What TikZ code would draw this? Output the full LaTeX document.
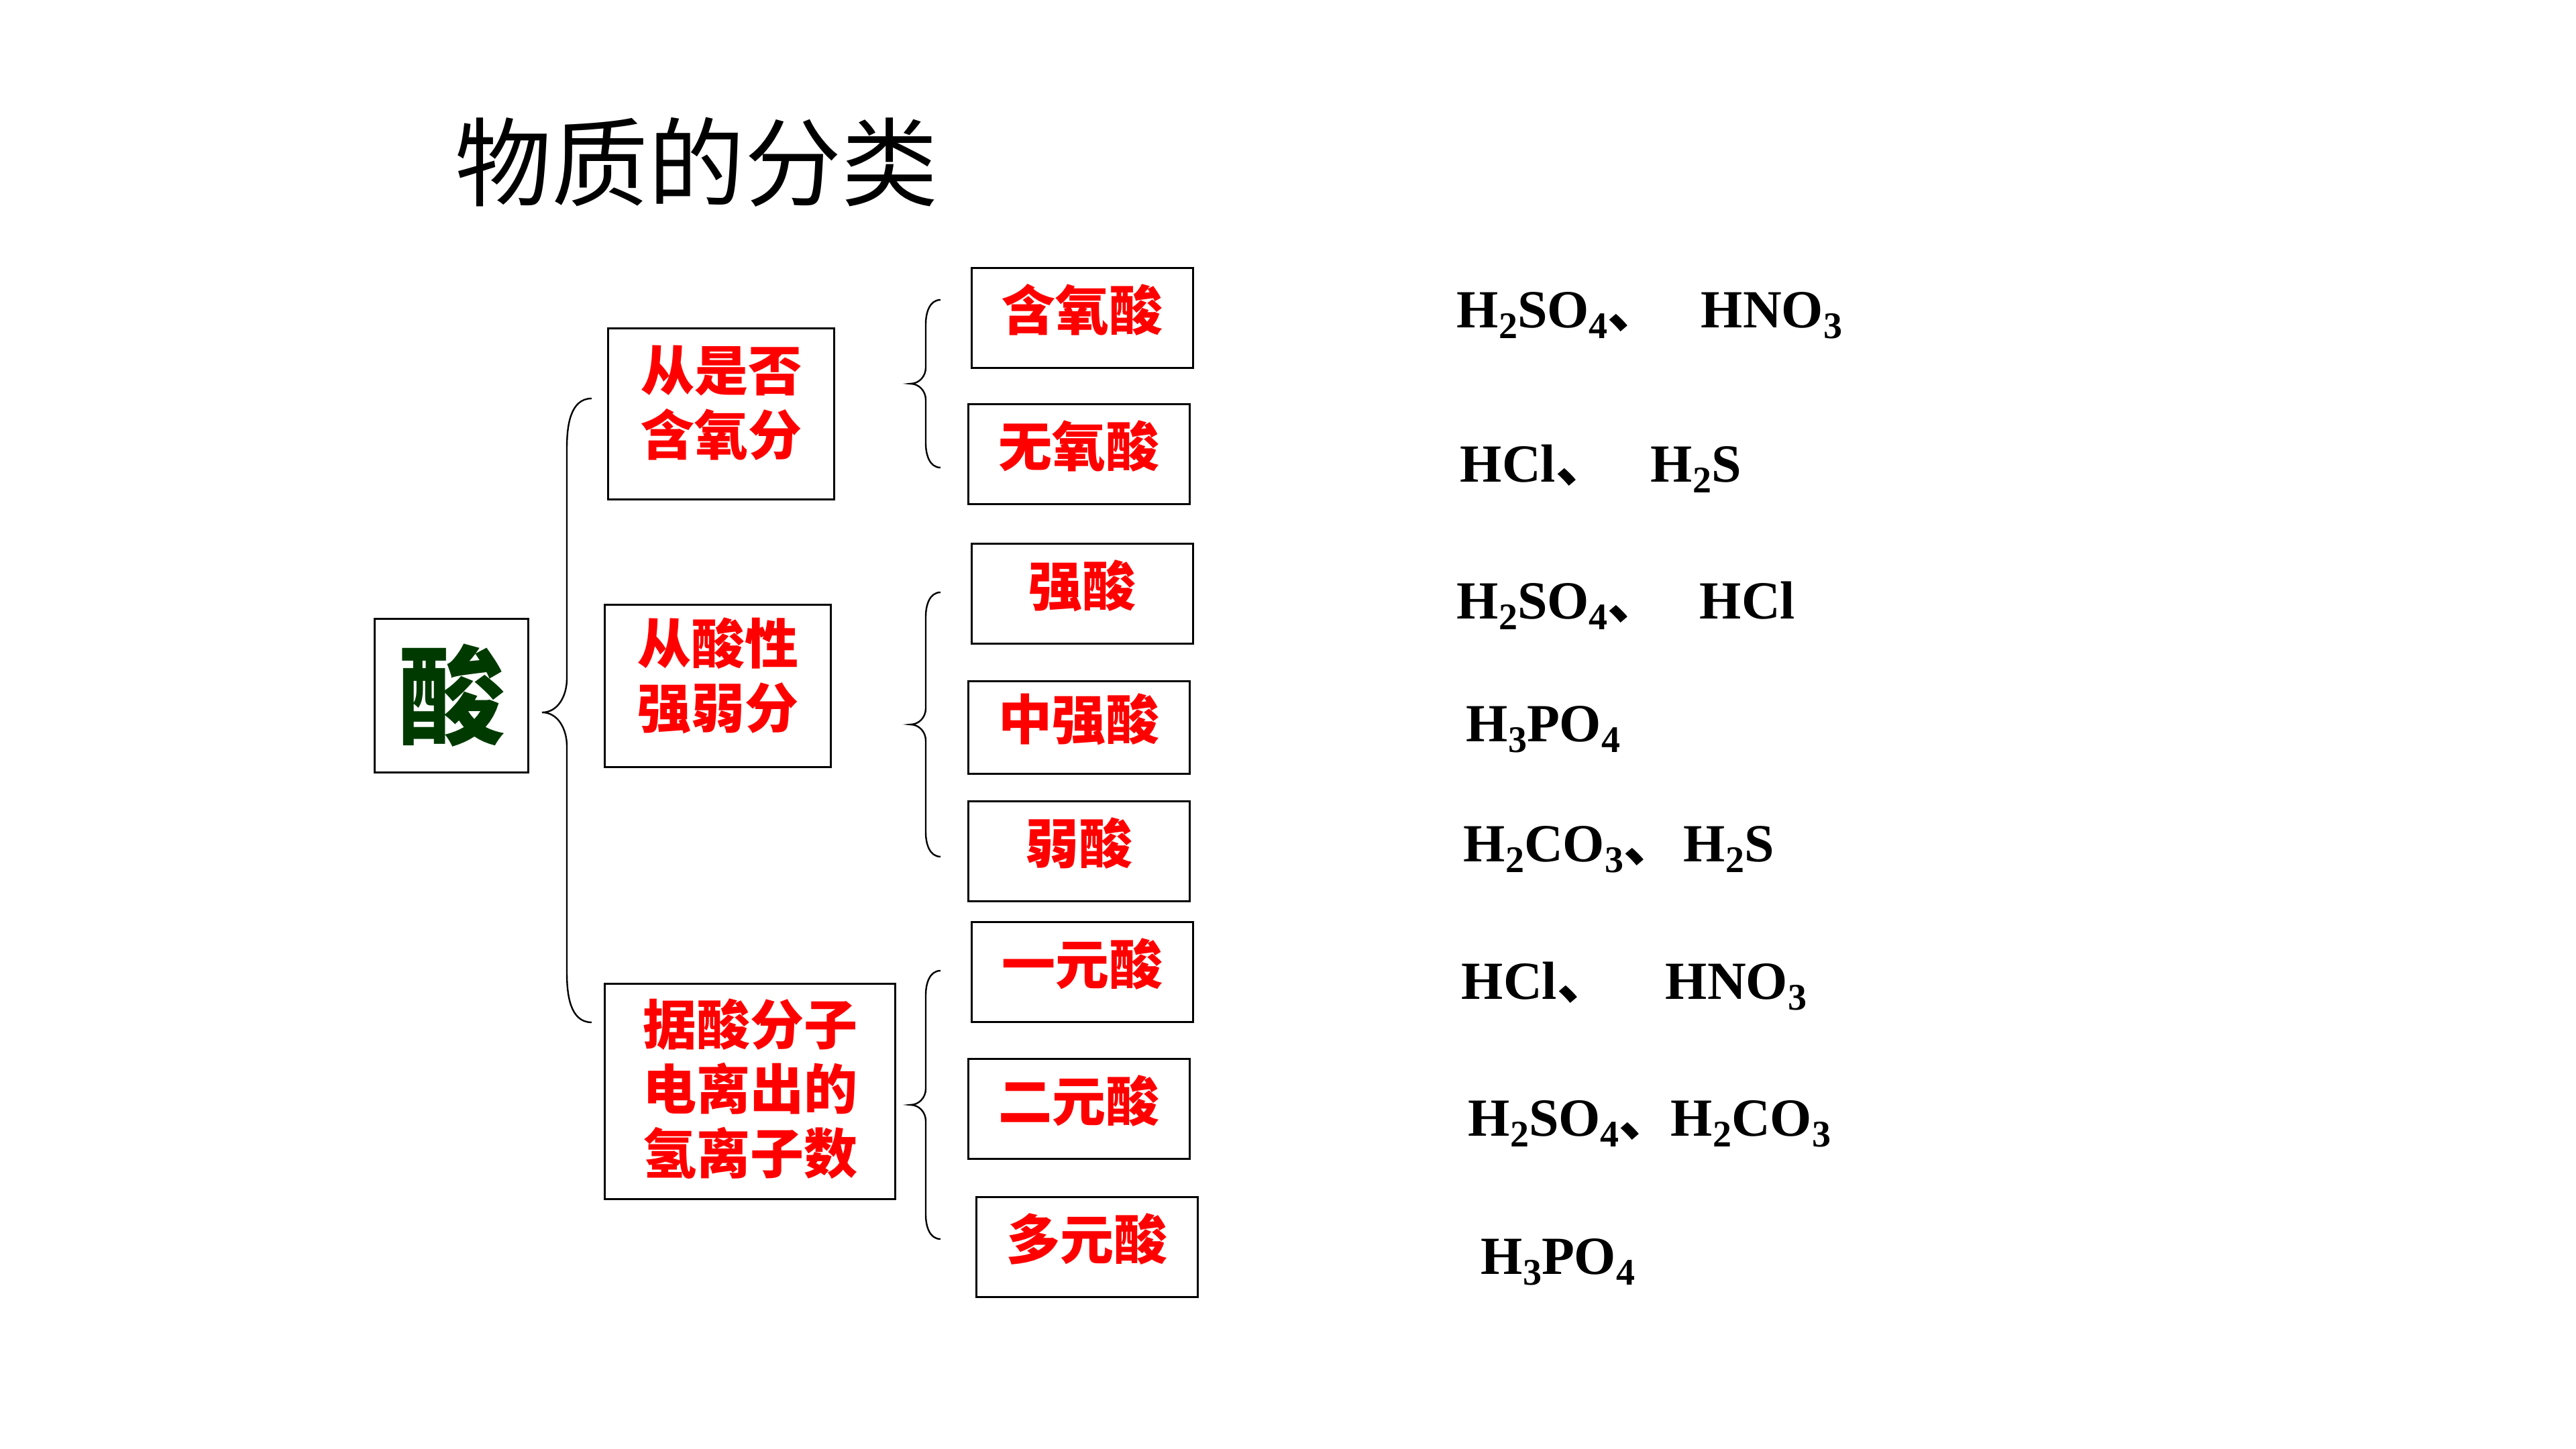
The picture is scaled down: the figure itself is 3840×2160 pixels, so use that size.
\documentclass[tikz,border=0pt]{standalone}
\usepackage{fontspec}
\setmainfont{Liberation Serif}
\newfontfamily\cjk{Noto Sans CJK SC}
\definecolor{acidgreen}{RGB}{0,58,0}

% subscript digit and the Chinese list comma
\newcommand{\chemsub}[1]{\raisebox{-4pt}{\fontsize{14}{14}\selectfont #1}}
\newcommand{\dun}{{\cjk 、}}

% curly brace: end x, stem x, tip x, top y, tip y, bottom y, end curl, tip curl
\newcommand{\drawbrace}[8]{%
  \draw[line width=0.6pt] (#1,#4) to[out=180,in=90] (#2,#4+#7)
    -- (#2,#5-#8) to[out=-90,in=0] (#3,#5)
    to[out=0,in=90] (#2,#5+#8) -- (#2,#6-#7)
    to[out=-90,in=180] (#1,#6);
}

\tikzset{
  catbox/.style={draw, line width=0.75pt, text=red, inner sep=0pt,
    font=\cjk\bfseries\fontsize{20}{24}\selectfont, align=center},
  leafbox/.style={catbox, minimum width=82.5pt, minimum height=37.25pt,
    text height=15pt, text depth=5.8pt},
  formula/.style={anchor=base west, inner sep=0pt,
    font=\bfseries\fontsize{20}{24}\selectfont},
}

\begin{document}
\begin{tikzpicture}[x=0.25pt, y=-0.25pt]
    \useasboundingbox (0,0) rectangle (3840,2160);

    \node[font=\cjk\fontsize{36}{40}\selectfont] (title) at (1038,242) {物质的分类};

    \node[draw, line width=0.75pt,
        minimum width=57.25pt,
        minimum height=57.25pt,
        text=acidgreen,
        font=\cjk\bfseries\fontsize{40}{44}\selectfont
    ] (acid) at (673,1037) {酸};

    % ways of sorting
    \node[catbox, minimum width=84.25pt, minimum height=63.5pt,
        text height=40pt, text depth=9.3pt] (byoxygen) at (1075,617) {从是否\\含氧分};
    \node[catbox, minimum width=84.25pt, minimum height=60.5pt,
        text height=40pt, text depth=8.3pt] (bystrength) at (1070,1022) {从酸性\\强弱分};
    \node[catbox, minimum width=108.25pt, minimum height=80.25pt,
        text height=64pt, text depth=2.6pt] (byhydrogen) at (1118,1627) {据酸分子\\电离出的\\氢离子数};

    % kinds of acid
    \node[leafbox] (oxo) at (1613,474) {含氧酸};
    \node[leafbox] (nonoxo) at (1608,677) {无氧酸};
    \node[leafbox] (strong) at (1613,885) {强酸};
    \node[leafbox, minimum height=34.5pt] (medium) at (1608,1084) {中强酸};
    \node[leafbox] (weak) at (1608,1269) {弱酸};
    \node[leafbox] (mono) at (1613,1449) {一元酸};
    \node[leafbox] (di) at (1608,1653) {二元酸};
    \node[leafbox] (poly) at (1620,1859) {多元酸};

    % braces
    \drawbrace{882}{845}{808}{594}{1062}{1524}{75}{50}
    \drawbrace{1402}{1380}{1357}{447}{572}{697}{36}{24}
    \drawbrace{1402}{1380}{1357}{883}{1080}{1277}{36}{24}
    \drawbrace{1402}{1380}{1357}{1447}{1647}{1847}{36}{24}

    % examples
    \node[formula] (oxoex1) at (2171,489) {H\chemsub{2}SO\chemsub{4}\dun};
    \node[formula] (oxoex2) at (2535,489) {HNO\chemsub{3}};
    \node[formula] (nonoxoex1) at (2176,718) {HCl\dun};
    \node[formula] (nonoxoex2) at (2460,718) {H\chemsub{2}S};
    \node[formula] (strongex1) at (2171,922) {H\chemsub{2}SO\chemsub{4}\dun};
    \node[formula] (strongex2) at (2533,922) {HCl};
    \node[formula] (mediumex) at (2185,1105) {H\chemsub{3}PO\chemsub{4}};
    \node[formula] (weakex1) at (2181,1284) {H\chemsub{2}CO\chemsub{3}\dun};
    \node[formula] (weakex2) at (2509,1284) {H\chemsub{2}S};
    \node[formula] (monoex1) at (2178,1489) {HCl\dun};
    \node[formula] (monoex2) at (2482,1489) {HNO\chemsub{3}};
    \node[formula] (diex1) at (2188,1693) {H\chemsub{2}SO\chemsub{4}\dun};
    \node[formula] (diex2) at (2490,1693) {H\chemsub{2}CO\chemsub{3}};
    \node[formula] (polyex) at (2207,1899) {H\chemsub{3}PO\chemsub{4}};

\end{tikzpicture}
\end{document}
